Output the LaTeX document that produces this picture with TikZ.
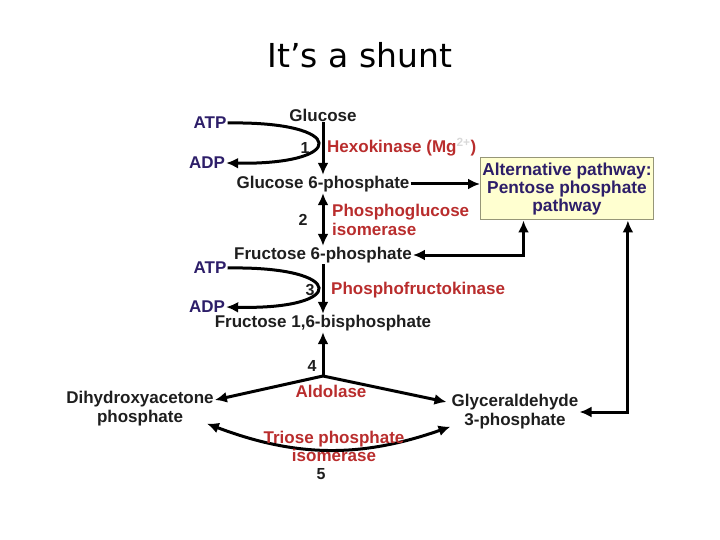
\documentclass[tikz,border=0pt]{standalone}
\usepackage{fontspec}
\setmainfont{Liberation Sans}
\newfontfamily\titlefont{DejaVu Sans}
\usetikzlibrary{arrows.meta,positioning,calc}
\definecolor{Navy}{RGB}{45,30,105}
\definecolor{EnzRed}{RGB}{185,45,45}
\definecolor{Ink}{RGB}{30,30,30}
\definecolor{BoxFill}{RGB}{255,255,208}
\definecolor{BoxEdge}{RGB}{150,150,120}
\tikzset{
  arr/.style={-{Latex[length=12pt,width=11pt]}, line width=3pt, draw=black},
  dblarr/.style={{Latex[length=12pt,width=11pt]}-{Latex[length=12pt,width=11pt]}, line width=3pt, draw=black},
  metab/.style={font=\fontsize{17}{19}\selectfont\bfseries, text=Ink, align=center, inner sep=1pt},
  cofac/.style={font=\fontsize{17}{19}\selectfont\bfseries, text=Navy, inner sep=1pt},
  enzyme/.style={font=\fontsize{17}{18.5}\selectfont\bfseries, text=EnzRed, align=left, inner sep=1pt},
  stepnum/.style={font=\fontsize{16}{18}\selectfont\bfseries, text=Ink, inner sep=1pt},
  altbox/.style={draw=BoxEdge, line width=1pt, fill=BoxFill, align=center,
    font=\fontsize{17.3}{17.8}\selectfont\bfseries, text=Navy,
    minimum width=173pt, minimum height=62pt, inner sep=1pt},
}

\begin{document}
\begin{tikzpicture}[x=1pt,y=-1pt]
\useasboundingbox (0,0) rectangle (720,540);

% ---- Title ----
\node[font=\titlefont\fontsize{33}{38}\selectfont] (title) at (360,55) {It’s a shunt};

% ---- Metabolites ----
\node[metab] (glc)   at (323,115) {Glucose};
\node[metab] (g6p)   at (323,184) {Glucose 6-phosphate};
\node[metab] (f6p)   at (323,255) {Fructose 6-phosphate};
\node[metab] (f16bp) at (323,323) {Fructose 1,6-bisphosphate};
\node[metab] (dhap)  at (140,409) {Dihydroxyacetone\\phosphate};
\node[metab] (gap)   at (515,412) {Glyceraldehyde\\3-phosphate};

% ---- Alternative pathway ----
\node[altbox] (ppp) at (567,189) {Alternative pathway:\\Pentose phosphate\\pathway};

% ---- Cofactors ----
\node[cofac] (atp1) at (210,123) {ATP};
\node[cofac] (adp1) at (207,163) {ADP};
\node[cofac] (atp2) at (210,268) {ATP};
\node[cofac] (adp2) at (207,307) {ADP};

% ---- Arrows ----
\draw[arr] (glc.south) -- (g6p.north);
\draw[arr] (atp1.east) .. controls (348,121) and (348,165) .. (adp1.east);
\draw[arr] (g6p.east) -- (g6p.east -| ppp.west);
\draw[dblarr] (g6p.south) -- (f6p.north);
\draw[dblarr] (f6p.east) -| ($(ppp.south west)!0.25!(ppp.south east)$);
\draw[arr] (f6p.south) -- (f16bp.north);
\draw[arr] (atp2.east) .. controls (348,266) and (348,310) .. (adp2.east);

\coordinate (split) at (323,376);
\draw[arr] (split) -- (f16bp.south);
\draw[arr] (split) -- ([yshift=9pt]dhap.east);
\draw[arr] (split) -- ([xshift=-4pt,yshift=10pt]gap.west);
\draw[dblarr] ([xshift=-8pt,yshift=4pt]dhap.south east) to[bend right=20] ([yshift=4pt]gap.south west);
\draw[dblarr] (gap.east) -| ($(ppp.south west)!0.85!(ppp.south east)$);

% ---- Enzymes ----
\node[enzyme, anchor=west] (hk) at (326,147)
  {Hexokinase (Mg\textsuperscript{\textcolor{gray!30}{2+}})};
\node[enzyme, anchor=west] (pgi) at (331,220) {Phosphoglucose\\isomerase};
\node[enzyme, anchor=west] (pfk) at (330,290) {Phosphofructokinase};
\node[enzyme] (ald) at (331,391) {Aldolase};
\node[enzyme, align=center, font=\fontsize{17}{18}\selectfont\bfseries] (tpi) at (334,446) {Triose phosphate\\isomerase};

% ---- Step numbers ----
\node[stepnum] (n1) at (305,148) {1};
\node[stepnum] (n2) at (303,220) {2};
\node[stepnum] (n3) at (310,290) {3};
\node[stepnum] (n4) at (312,366) {4};
\node[stepnum] (n5) at (321,474) {5};

\end{tikzpicture}
\end{document}
